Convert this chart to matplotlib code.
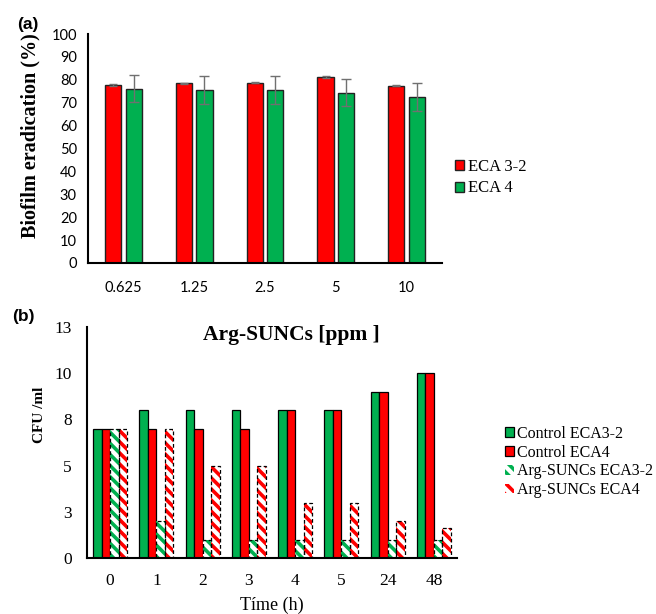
import matplotlib
matplotlib.use("Agg")
import matplotlib.pyplot as plt
from matplotlib.patches import Patch
import numpy as np

# ---------------- data ----------------
conc_labels = ["0.625", "1.25", "2.5", "5", "10"]
eca32_erad = [77.7, 78.5, 78.7, 81.2, 77.4]
eca32_err = [0.3, 0.3, 0.3, 0.3, 0.3]
eca4_erad = [76.2, 75.5, 75.5, 74.4, 72.5]
eca4_err = [6.0, 6.0, 6.0, 6.0, 6.0]
a_yticks = [0, 10, 20, 30, 40, 50, 60, 70, 80, 90, 100]

time_labels = ["0", "1", "2", "3", "4", "5", "24", "48"]
ctrl_eca32 = [7.0, 8.0, 8.0, 8.0, 8.0, 8.0, 9.0, 10.0]
ctrl_eca4 = [7.0, 7.0, 7.0, 7.0, 8.0, 8.0, 9.0, 10.0]
arg_eca32 = [7.0, 2.0, 1.0, 1.0, 1.0, 1.0, 1.0, 1.0]
arg_eca4 = [7.0, 7.0, 5.0, 5.0, 3.0, 3.0, 2.0, 1.6]
b_yticks = [0, 2.5, 5, 7.5, 10, 12.5]
b_yticklabels = ["0", "3", "5", "8", "10", "13"]

GREEN = "#00B050"
RED = "#FF0000"
SERIF = "Liberation Serif"
SANS = "Lato"
HATCH = "\\\\\\"

plt.rcParams["hatch.linewidth"] = 2.6

fig = plt.figure(figsize=(6.56, 6.14), dpi=100)

# ---------------- panel (a) ----------------
axa = fig.add_axes([88/656, 1-263/614, (442-88)/656, (263-34)/614])
xa = np.arange(len(conc_labels))
wa = 0.23
off = 0.145
axa.bar(xa - off, eca32_erad, wa, color=RED, edgecolor="#222222", linewidth=1.0,
        yerr=eca32_err, error_kw=dict(ecolor="#707070", elinewidth=1.0, capsize=3, capthick=1.0),
        label="ECA 3-2", zorder=2)
axa.bar(xa + off, eca4_erad, wa, color=GREEN, edgecolor="#222222", linewidth=1.0,
        yerr=eca4_err, error_kw=dict(ecolor="#707070", elinewidth=1.0, capsize=3.5, capthick=1.0),
        label="ECA 4", zorder=2)
axa.set_xlim(-0.5, len(conc_labels) - 0.5)
axa.set_ylim(0, 100)
axa.set_yticks(a_yticks)
axa.set_xticks(xa)
axa.set_xticklabels(conc_labels, fontfamily=SANS, fontsize=10.5)
for t in axa.get_yticklabels():
    t.set_fontfamily(SANS)
    t.set_fontsize(10.5)
axa.tick_params(axis="both", length=0)
axa.tick_params(axis="y", pad=8)
axa.tick_params(axis="x", pad=13)
for s in ["top", "right"]:
    axa.spines[s].set_visible(False)
for s in ["left", "bottom"]:
    axa.spines[s].set_linewidth(1.5)
axa.set_ylabel("Biofilm eradication (%)", fontfamily=SERIF, fontweight="bold", fontsize=14.5)
axa.yaxis.label.set_va("center")
axa.yaxis.set_label_coords((30-88)/354, (263-136)/229)
axa.legend(loc="center left", bbox_to_anchor=((455-88)/354, (263-177.5)/229),
           frameon=False, borderpad=0, borderaxespad=0, handlelength=0.55,
           handleheight=0.55, handletextpad=0.25, labelspacing=0.35,
           prop=dict(family=SERIF, size=12))
fig.text(28/656, 1-24/614, "(a)", fontfamily="Liberation Sans", fontweight="bold",
         fontsize=12.5, ha="center", va="center")

# ---------------- panel (b) ----------------
axb = fig.add_axes([87/656, 1-558/614, (457-87)/656, (558-327)/614])
xb = np.arange(len(time_labels))
wb = 0.183
axb.bar(xb - 1.5*wb, ctrl_eca32, wb, color=GREEN, edgecolor="black", linewidth=0.9, zorder=2)
axb.bar(xb - 0.5*wb, ctrl_eca4, wb, color=RED, edgecolor="black", linewidth=0.9, zorder=2)
axb.bar(xb + 0.5*wb, arg_eca32, wb, color="white", edgecolor=GREEN, hatch=HATCH,
        linewidth=0, zorder=2)
axb.bar(xb + 0.5*wb, arg_eca32, wb, fill=False, edgecolor="black", linestyle=(0, (3, 2)),
        linewidth=0.9, zorder=3)
axb.bar(xb + 1.5*wb, arg_eca4, wb, color="white", edgecolor=RED, hatch=HATCH,
        linewidth=0, zorder=2)
axb.bar(xb + 1.5*wb, arg_eca4, wb, fill=False, edgecolor="black", linestyle=(0, (3, 2)),
        linewidth=0.9, zorder=3)
axb.set_xlim(-0.5, len(time_labels) - 0.5)
axb.set_ylim(0, 12.5)
axb.set_yticks(b_yticks)
axb.set_yticklabels(b_yticklabels, fontfamily=SERIF, fontsize=12.5)
axb.set_xticks(xb)
axb.set_xticklabels(time_labels, fontfamily=SERIF, fontsize=12.5)
axb.tick_params(axis="both", length=0)
axb.tick_params(axis="y", pad=11)
axb.tick_params(axis="x", pad=11)
for s in ["top", "right"]:
    axb.spines[s].set_visible(False)
for s in ["left", "bottom"]:
    axb.spines[s].set_linewidth(1.5)
axb.set_ylabel("CFU /ml", fontfamily=SERIF, fontweight="bold", fontsize=11)
axb.yaxis.label.set_va("center")
axb.yaxis.set_label_coords((39-87)/370, (558-415)/231)
axb.set_xlabel("Tíme (h)", fontfamily=SERIF, fontsize=13)
axb.xaxis.label.set_va("center")
axb.xaxis.set_label_coords(0.5, (558-605)/231)
axb.text((291.5-87)/370, (558-335)/231, "Arg-SUNCs [ppm ]", transform=axb.transAxes,
         fontfamily=SERIF, fontweight="bold", fontsize=15.5, ha="center", va="center")
handles = [
    Patch(facecolor=GREEN, edgecolor="black", linewidth=0.9),
    Patch(facecolor=RED, edgecolor="black", linewidth=0.9),
    Patch(facecolor="white", edgecolor=GREEN, hatch=HATCH, linewidth=0),
    Patch(facecolor="white", edgecolor=RED, hatch=HATCH, linewidth=0),
]
labels = ["Control ECA3-2", "Control ECA4", "Arg-SUNCs ECA3-2", "Arg-SUNCs ECA4"]
axb.legend(handles, labels, loc="center left",
           bbox_to_anchor=((505-87)/370, (558-462)/231),
           frameon=False, borderpad=0, borderaxespad=0, handlelength=0.55,
           handleheight=0.55, handletextpad=0.2, labelspacing=0.17,
           prop=dict(family=SERIF, size=11.5))
fig.text(23/656, 1-317/614, "(b)", fontfamily="Liberation Sans", fontweight="bold",
         fontsize=12.5, ha="center", va="center")

fig.savefig("out.png", dpi=100)
